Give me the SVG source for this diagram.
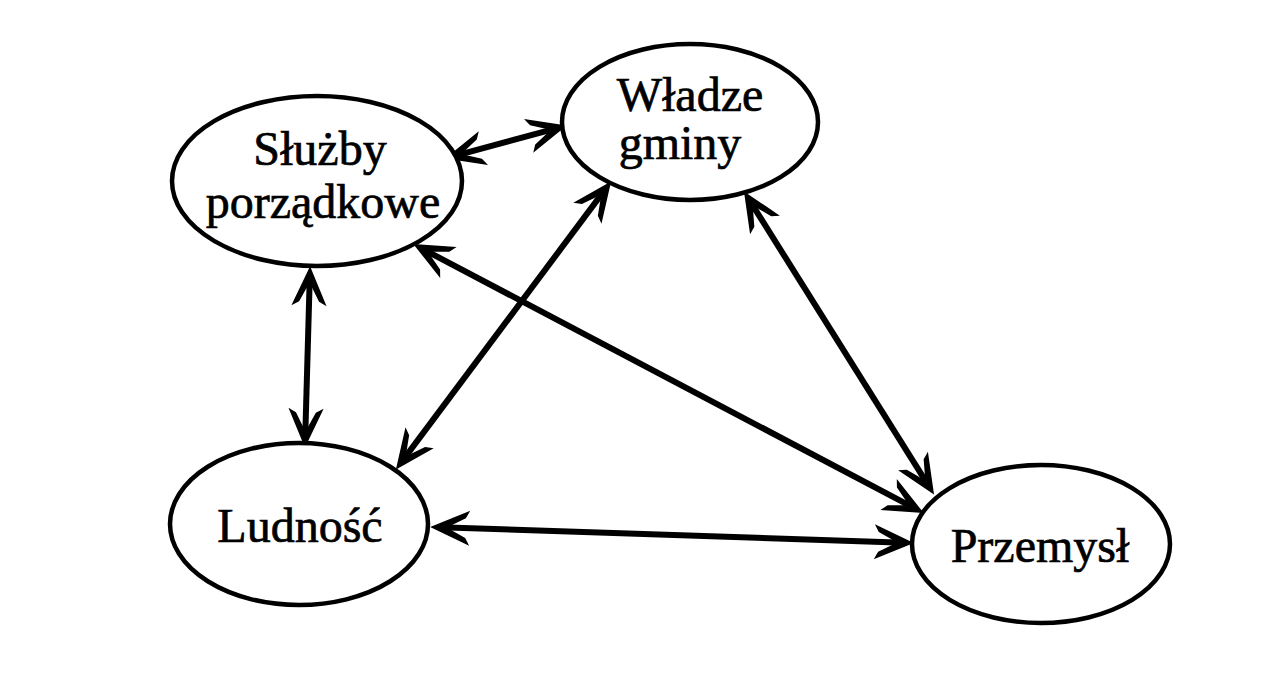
<svg xmlns="http://www.w3.org/2000/svg" width="1272" height="687" viewBox="0 0 1272 687">
<style>
.node ellipse{fill:#fff;stroke:#000;stroke-width:4.5}
.node text{font-family:"Liberation Serif","Times New Roman",serif;font-size:48px;fill:#000;stroke:#000;stroke-width:0.7;text-anchor:middle}
.edges line{stroke:#000;stroke-width:6;marker-start:url(#ah);marker-end:url(#ah)}
</style>
<defs>
<marker id="ah" markerUnits="userSpaceOnUse" orient="auto-start-reverse" refX="0" refY="0" markerWidth="60" markerHeight="40" overflow="visible">
<path d="M8,0 L-28,-16 L-25,-10.5 L-5,0 L-25,10.5 L-28,16 Z" fill="#000" stroke="#000" stroke-width="1.5" stroke-linejoin="miter"/>
</marker>
</defs>
<rect width="1272" height="687" fill="#fff"/>
<g class="edges">
<line x1="454.7" y1="155.9" x2="557.3" y2="128.1"/>
<line x1="309.8" y1="276" x2="305.2" y2="438"/>
<line x1="605.2" y1="189.4" x2="401.8" y2="461.6"/>
<line x1="422.1" y1="248.7" x2="914.9" y2="508.3"/>
<line x1="749.2" y1="199.8" x2="928.8" y2="486.2"/>
<line x1="440" y1="527.3" x2="904" y2="542.7"/>
</g>
<g id="sluzby" class="node">
<ellipse cx="317" cy="181" rx="145" ry="85"/>
<text x="320" y="165">Służby</text>
<text x="323" y="218">porządkowe</text>
</g>
<g id="wladze" class="node">
<ellipse cx="690" cy="122" rx="128" ry="78"/>
<text x="690" y="111">Władze</text>
<text x="680" y="159">gminy</text>
</g>
<g id="ludnosc" class="node">
<ellipse cx="299" cy="524" rx="129" ry="81"/>
<text x="300" y="542">Ludność</text>
</g>
<g id="przemysl" class="node">
<ellipse cx="1041" cy="544" rx="129" ry="79"/>
<text x="1040" y="562">Przemysł</text>
</g>
</svg>
